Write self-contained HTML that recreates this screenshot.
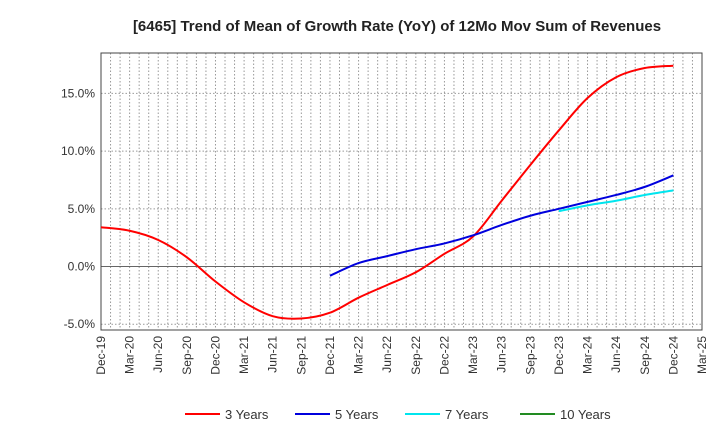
<!DOCTYPE html>
<html><head><meta charset="utf-8"><style>
body{margin:0;background:#fff;}
svg{font-family:"Liberation Sans",Arial,sans-serif;}
</style></head><body>
<svg id="chart" width="720" height="440" xmlns="http://www.w3.org/2000/svg">
<text x="397" y="31" text-anchor="middle" font-size="15" font-weight="bold" fill="#222">[6465]  Trend of Mean of Growth Rate (YoY) of 12Mo Mov Sum of Revenues</text>
<g id="grid"></g><g id="axes"></g><g id="series"></g><g id="legend"></g>
</svg>
<script>
const categories=["Dec-19","Mar-20","Jun-20","Sep-20","Dec-20","Mar-21","Jun-21","Sep-21","Dec-21","Mar-22","Jun-22","Sep-22","Dec-22","Mar-23","Jun-23","Sep-23","Dec-23","Mar-24","Jun-24","Sep-24","Dec-24","Mar-25"];
const yTicks=[-5,0,5,10,15];
const yTickLabels=["-5.0%","0.0%","5.0%","10.0%","15.0%"];
const s3=[3.4,3.1,2.3,0.8,-1.3,-3.1,-4.3,-4.5,-4.0,-2.7,-1.6,-0.5,1.1,2.6,5.7,8.8,11.8,14.6,16.4,17.2,17.4];
const s5=[null,null,null,null,null,null,null,null,-0.8,0.3,0.9,1.5,2.0,2.7,3.6,4.4,5.0,5.6,6.2,6.9,7.9];
const s7=[null,null,null,null,null,null,null,null,null,null,null,null,null,null,null,null,4.8,5.3,5.7,6.2,6.6];
const s10=[];
const seriesNames=["3 Years","5 Years","7 Years","10 Years"];
const seriesColors=["#ff0000","#0000dd","#00e5ee","#228b22"];
const L=101,R=702,T=53,B=330,yMin=-5.5,yMax=18.5;
const x=i=>L+(R-L)*i/(categories.length-1);
const y=v=>B-(v-yMin)/(yMax-yMin)*(B-T);
const NS="http://www.w3.org/2000/svg";
function mk(t,a,p){const e=document.createElementNS(NS,t);for(const k in a)e.setAttribute(k,a[k]);p.appendChild(e);return e;}
const grid=document.getElementById('grid'),axes=document.getElementById('axes'),ser=document.getElementById('series'),leg=document.getElementById('legend');
for(let m=1;m<(categories.length-1)*3;m++){const xx=L+(R-L)*m/((categories.length-1)*3);
const g=mk('line',{x1:xx,x2:xx,y1:T,y2:B,stroke:'#999','stroke-dasharray':'1.5,2','stroke-width':1},grid);

}
yTicks.forEach((v,i)=>{const yy=y(v);
const g=mk('line',{x1:L,x2:R,y1:yy,y2:yy,stroke:v===0?'#666':'#999','stroke-dasharray':v===0?'':'1.5,2','stroke-width':1},grid);


const t=mk('text',{x:L-6,y:yy+4,'text-anchor':'end','font-size':12,fill:'#333'},axes);t.textContent=yTickLabels[i];

});
const fr=mk('rect',{x:L,y:T,width:R-L,height:B-T,fill:'none',stroke:'#444','stroke-width':1},axes);


categories.forEach((c,i)=>{const t=mk('text',{transform:`translate(${x(i)+4},${B+6}) rotate(-90)`,'text-anchor':'end','font-size':12,fill:'#333'},axes);t.textContent=c;

});
function path(pts){let d=`M${pts[0][0]},${pts[0][1]}`;for(let i=0;i<pts.length-1;i++){const p0=pts[i-1]||pts[i],p1=pts[i],p2=pts[i+1],p3=pts[i+2]||p2;
d+=` C${p1[0]+(p2[0]-p0[0])/6},${p1[1]+(p2[1]-p0[1])/6} ${p2[0]-(p3[0]-p1[0])/6},${p2[1]-(p3[1]-p1[1])/6} ${p2[0]},${p2[1]}`;}return d;}
[s3,s5,s7,s10].forEach((s,k)=>{const pts=[];s.forEach((v,i)=>{if(v!==null&&v!==undefined)pts.push([x(i),y(v)]);});
if(pts.length<2)return;const p=mk('path',{d:path(pts),fill:'none',stroke:seriesColors[k],'stroke-width':2},ser);

});
const lx=[185,295,405,520];
seriesNames.forEach((n,k)=>{const g=mk('g',{},leg);


mk('line',{x1:lx[k],x2:lx[k]+35,y1:414,y2:414,stroke:seriesColors[k],'stroke-width':2},g);
const t=mk('text',{x:lx[k]+40,y:419,'font-size':13,fill:'#333'},g);t.textContent=n;});
</script>
</body></html>
